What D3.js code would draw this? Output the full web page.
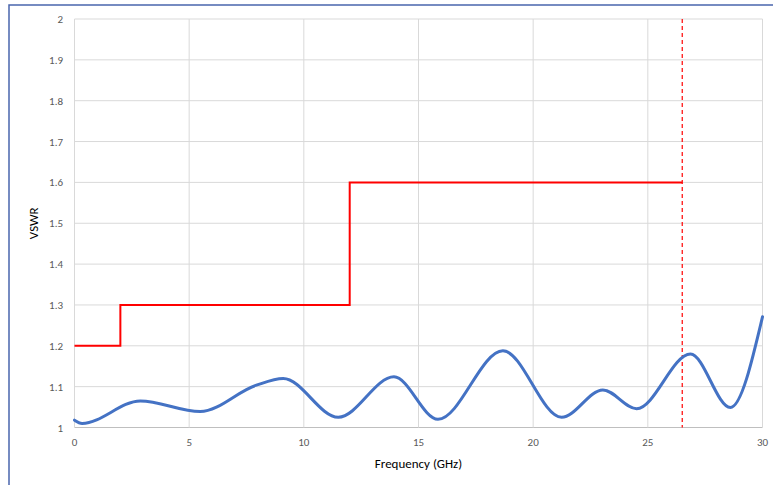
<!DOCTYPE html>
<html><head><meta charset="utf-8">
<script src="https://cdn.jsdelivr.net/npm/d3@7"></script>
<style>body{margin:0;background:#fff}svg{display:block}</style>
</head><body>
<script>
// Data
const vswrFreq = [0, 0.33, 2.87, 5.48, 7.9, 9.1, 11.5, 13.93, 15.85, 18.68, 21.24, 23.04, 24.51, 26.86, 28.6, 30];
const vswrVals = [1.018, 1.01, 1.065, 1.039, 1.103, 1.12, 1.025, 1.124, 1.02, 1.188, 1.025, 1.092, 1.046, 1.18, 1.049, 1.271];
const limitFreq = [0, 2, 2, 12, 12, 26.5];
const limitVals = [1.2, 1.2, 1.3, 1.3, 1.6, 1.6];
const markerFreq = 26.5;
const xTicks = [0, 5, 10, 15, 20, 25, 30];
const yTicks = [1, 1.1, 1.2, 1.3, 1.4, 1.5, 1.6, 1.7, 1.8, 1.9, 2];

const W = 773, H = 485;
const svg = d3.select("body").append("svg").attr("width", W).attr("height", H);
const font = "Carlito, Lato, 'Open Sans', sans-serif";

// outer frame
svg.append("rect").attr("x", 9).attr("y", 5).attr("width", 780).attr("height", 500)
  .attr("fill", "none").attr("stroke", "#4a66ad").attr("stroke-width", 1.5);

const x = d3.scaleLinear().domain([0, 30]).range([74.5, 762.5]);
const y = d3.scaleLinear().domain([1, 2]).range([427.5, 19]);

// gridlines
svg.append("g").selectAll("line").data(yTicks).join("line")
  .attr("x1", x(0)).attr("x2", x(30)).attr("y1", d => y(d)).attr("y2", d => y(d))
  .attr("stroke", d => d === 1 ? "#bfbfbf" : "#d9d9d9").attr("stroke-width", 1);
svg.append("g").selectAll("line").data(xTicks).join("line")
  .attr("x1", d => x(d)).attr("x2", d => x(d)).attr("y1", y(1)).attr("y2", y(2))
  .attr("stroke", "#d9d9d9").attr("stroke-width", 1);

// tick labels
svg.append("g").selectAll("text").data(yTicks).join("text")
  .attr("x", 63).attr("y", d => y(d) + 4).attr("text-anchor", "end")
  .attr("font-family", font).attr("font-size", 11).attr("fill", "#595959")
  .text(d => d3.format("")(+d.toFixed(1)));
svg.append("g").selectAll("text").data(xTicks).join("text")
  .attr("x", d => x(d)).attr("y", 446).attr("text-anchor", "middle")
  .attr("font-family", font).attr("font-size", 11).attr("fill", "#595959")
  .text(d => d);

// axis titles
svg.append("text").attr("x", (x(0) + x(30)) / 2).attr("y", 468).attr("text-anchor", "middle")
  .attr("font-family", font).attr("font-size", 13).attr("fill", "#000").text("Frequency (GHz)");
svg.append("text").attr("transform", `translate(38,${(y(1) + y(2)) / 2}) rotate(-90)`)
  .attr("text-anchor", "middle").attr("font-family", font).attr("font-size", 13).attr("fill", "#000").text("VSWR");

// limit line
const limitData = limitFreq.map((f, i) => [f, limitVals[i]]);
svg.append("path").datum(limitData)
  .attr("d", d3.line().x(d => x(d[0])).y(d => y(d[1])))
  .attr("fill", "none").attr("stroke", "#ff0000").attr("stroke-width", 2);

// dashed marker
svg.append("line").attr("x1", x(markerFreq)).attr("x2", x(markerFreq)).attr("y1", y(2)).attr("y2", y(1))
  .attr("stroke", "#ff0000").attr("stroke-width", 1.2).attr("stroke-dasharray", "4,3");

// VSWR curve
const vData = vswrFreq.map((f, i) => [f, vswrVals[i]]);
svg.append("path").datum(vData)
  .attr("d", d3.line().x(d => x(d[0])).y(d => y(d[1])).curve(d3.curveMonotoneX))
  .attr("fill", "none").attr("stroke", "#4472c4").attr("stroke-width", 3).attr("stroke-linecap", "round");
</script>
</body></html>
